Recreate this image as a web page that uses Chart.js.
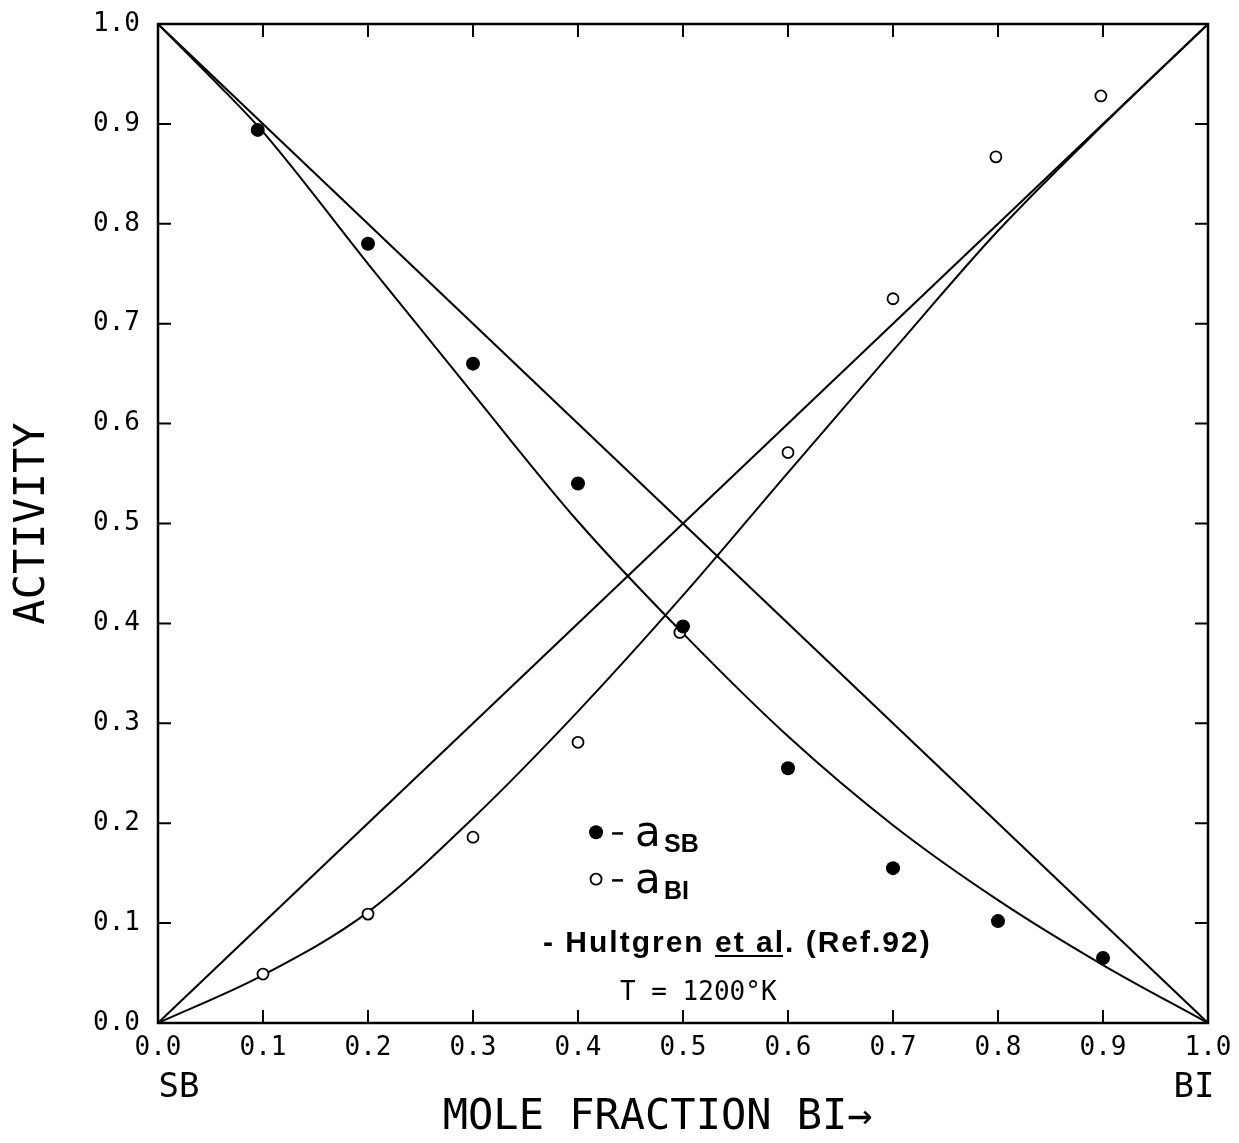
<!DOCTYPE html>
<html>
<head>
<meta charset="utf-8">
<script src="https://cdn.jsdelivr.net/npm/chart.js@4.4.0/dist/chart.umd.min.js"></script>
<style>
  body { margin: 0; background: #fff; }
  #activityChart { display: block; }
</style>
</head>
<body>
<canvas id="activityChart" width="1239" height="1143"></canvas>
<script>
// measured activities, Sb-Bi at 1200 K
const sbMoleFracBi = [0.095, 0.2, 0.3, 0.4, 0.5, 0.6, 0.7, 0.8, 0.9];
const sbActivity   = [0.894, 0.78, 0.66, 0.54, 0.397, 0.255, 0.155, 0.102, 0.065];
const biMoleFracBi = [0.1, 0.2, 0.3, 0.4, 0.497, 0.6, 0.7, 0.798, 0.898];
const biActivity   = [0.049, 0.109, 0.186, 0.281, 0.391, 0.571, 0.725, 0.867, 0.928];

// Hultgren et al. curves
const sbCurveX = [0, 0.066, 0.1, 0.2, 0.3, 0.4, 0.5, 0.6, 0.7, 0.8, 0.9, 1.0];
const sbCurveY = [1, 0.93, 0.892, 0.76, 0.63, 0.502, 0.39, 0.287, 0.198, 0.123, 0.058, 0];
const biCurveX = [0, 0.1, 0.2, 0.3, 0.4, 0.5, 0.6, 0.7, 0.8, 0.9, 1.0];
const biCurveY = [0, 0.048, 0.111, 0.205, 0.312, 0.428, 0.551, 0.673, 0.793, 0.899, 1.0];

// ideal (Raoult) lines
const raoultX = [0, 1];
const raoultSb = [1, 0];
const raoultBi = [0, 1];

const axisTicks = [0, 0.1, 0.2, 0.3, 0.4, 0.5, 0.6, 0.7, 0.8, 0.9, 1.0];

const toPoints = (xs, ys) => xs.map((x, i) => ({ x: x, y: ys[i] }));

const monoFont = '"DejaVu Sans Mono", "Liberation Mono", monospace';
const boldSans = '"Liberation Sans", Arial, sans-serif';

// fixed axis box, no extra label overhang padding
function fixScale(size) {
    return s => {
        if (s.isHorizontal()) s.height = size; else s.width = size;
        s.paddingTop = 0; s.paddingBottom = 0;
        s.paddingLeft = 0; s.paddingRight = 0;
    };
}

// frame, inward ticks on all four sides, legend text, end labels
const framePlugin = {
    id: 'framePlugin',
    afterDraw(chart) {
        const { ctx, chartArea: a, scales } = chart;
        const xs = scales.x, ys = scales.y;
        const tl = 13;
        ctx.save();
        ctx.strokeStyle = '#000';
        ctx.lineWidth = 2.5;
        ctx.strokeRect(a.left, a.top, a.right - a.left, a.bottom - a.top);

        ctx.lineWidth = 2;
        ctx.beginPath();
        axisTicks.slice(1, -1).forEach(v => {
            const px = xs.getPixelForValue(v);
            ctx.moveTo(px, a.bottom); ctx.lineTo(px, a.bottom - tl);
            ctx.moveTo(px, a.top);    ctx.lineTo(px, a.top + tl);
            const py = ys.getPixelForValue(v);
            ctx.moveTo(a.left, py);  ctx.lineTo(a.left + tl, py);
            ctx.moveTo(a.right, py); ctx.lineTo(a.right - tl, py);
        });
        ctx.stroke();

        // component labels under the axis ends
        ctx.fillStyle = '#000';
        ctx.font = '34px ' + monoFont;
        ctx.textAlign = 'center';
        ctx.textBaseline = 'alphabetic';
        ctx.fillText('SB', xs.getPixelForValue(0) + 21, 1097);
        ctx.fillText('BI', xs.getPixelForValue(1) - 14, 1097);

        // legend
        const lx = xs.getPixelForValue(0.4172);
        const row1 = ys.getPixelForValue(0.191);
        const row2 = ys.getPixelForValue(0.144);
        ctx.beginPath();
        ctx.arc(lx, row1, 7, 0, Math.PI * 2);
        ctx.fill();
        ctx.beginPath();
        ctx.lineWidth = 1.8;
        ctx.arc(lx, row2, 5.5, 0, Math.PI * 2);
        ctx.stroke();

        ctx.textAlign = 'left';
        [[row1, 'SB'], [row2, 'BI']].forEach(([ry, sub]) => {
            ctx.fillRect(lx + 16, ry, 11, 2.5);
            ctx.font = '42px "DejaVu Sans", sans-serif';
            ctx.fillText('a', lx + 39, ry + 14);
            ctx.font = 'bold 25px ' + boldSans;
            ctx.fillText(sub, lx + 68, ry + 20);
        });

        // source line
        ctx.font = 'bold 30px ' + boldSans;
        ctx.letterSpacing = '2px';
        let tx = 543;
        const ty = 952;
        const parts = ['- Hultgren ', 'et al', '. (Ref.92)'];
        parts.forEach((p, i) => {
            const w = ctx.measureText(p).width;
            ctx.fillText(p, tx, ty);
            if (i === 1) ctx.fillRect(tx, ty + 3, w - 2, 2);
            tx += w;
        });
        ctx.letterSpacing = '0px';

        ctx.font = '26px ' + monoFont;
        ctx.fillText('T = 1200°K', 620, 1000);
        ctx.restore();
    }
};

new Chart(document.getElementById('activityChart'), {
    type: 'scatter',
    data: {
        datasets: [
            {
                label: 'a_SB',
                data: toPoints(sbMoleFracBi, sbActivity),
                pointRadius: 7,
                backgroundColor: '#000',
                borderColor: '#000',
                borderWidth: 0
            },
            {
                label: 'a_BI',
                data: toPoints(biMoleFracBi, biActivity),
                pointRadius: 5.5,
                backgroundColor: '#fff',
                borderColor: '#000',
                borderWidth: 1.8
            },
            {
                label: 'Hultgren a_SB',
                data: toPoints(sbCurveX, sbCurveY),
                showLine: true,
                pointRadius: 0,
                borderColor: '#000',
                borderWidth: 2,
                cubicInterpolationMode: 'monotone'
            },
            {
                label: 'Hultgren a_BI',
                data: toPoints(biCurveX, biCurveY),
                showLine: true,
                pointRadius: 0,
                borderColor: '#000',
                borderWidth: 2,
                cubicInterpolationMode: 'monotone'
            },
            {
                label: 'Raoult SB',
                data: toPoints(raoultX, raoultSb),
                showLine: true,
                pointRadius: 0,
                borderColor: '#000',
                borderWidth: 2
            },
            {
                label: 'Raoult BI',
                data: toPoints(raoultX, raoultBi),
                showLine: true,
                pointRadius: 0,
                borderColor: '#000',
                borderWidth: 2
            }
        ]
    },
    options: {
        responsive: false,
        animation: false,
        devicePixelRatio: 1,
        layout: { padding: { top: 24, right: 31, left: 0, bottom: 0 } },
        plugins: {
            legend: { display: false },
            tooltip: { enabled: false }
        },
        scales: {
            x: {
                type: 'linear',
                position: 'bottom',
                min: 0,
                max: 1,
                afterFit: fixScale(120),
                afterBuildTicks: s => { s.ticks = axisTicks.map(v => ({ value: v })); },
                ticks: {
                    color: '#000',
                    font: { family: monoFont, size: 26 },
                    padding: 10,
                    maxRotation: 0,
                    autoSkip: false,
                    callback: v => v.toFixed(1)
                },
                grid: { display: false, drawTicks: false },
                border: { display: false },
                title: {
                    display: true,
                    text: 'MOLE FRACTION BI\u2192\u00a0\u00a0',
                    color: '#000',
                    font: { family: monoFont, size: 42 },
                    padding: { top: 0, bottom: 0 }
                }
            },
            y: {
                type: 'linear',
                min: 0,
                max: 1,
                afterFit: fixScale(158),
                afterBuildTicks: s => { s.ticks = axisTicks.map(v => ({ value: v })); },
                ticks: {
                    color: '#000',
                    font: { family: monoFont, size: 26 },
                    padding: 18,
                    autoSkip: false,
                    callback: v => v.toFixed(1)
                },
                grid: { display: false, drawTicks: false },
                border: { display: false },
                title: {
                    display: true,
                    text: 'ACTIVITY',
                    color: '#000',
                    font: { family: monoFont, size: 42 },
                    padding: { top: 8, bottom: 0 }
                }
            }
        }
    },
    plugins: [framePlugin]
});
</script>
</body>
</html>
